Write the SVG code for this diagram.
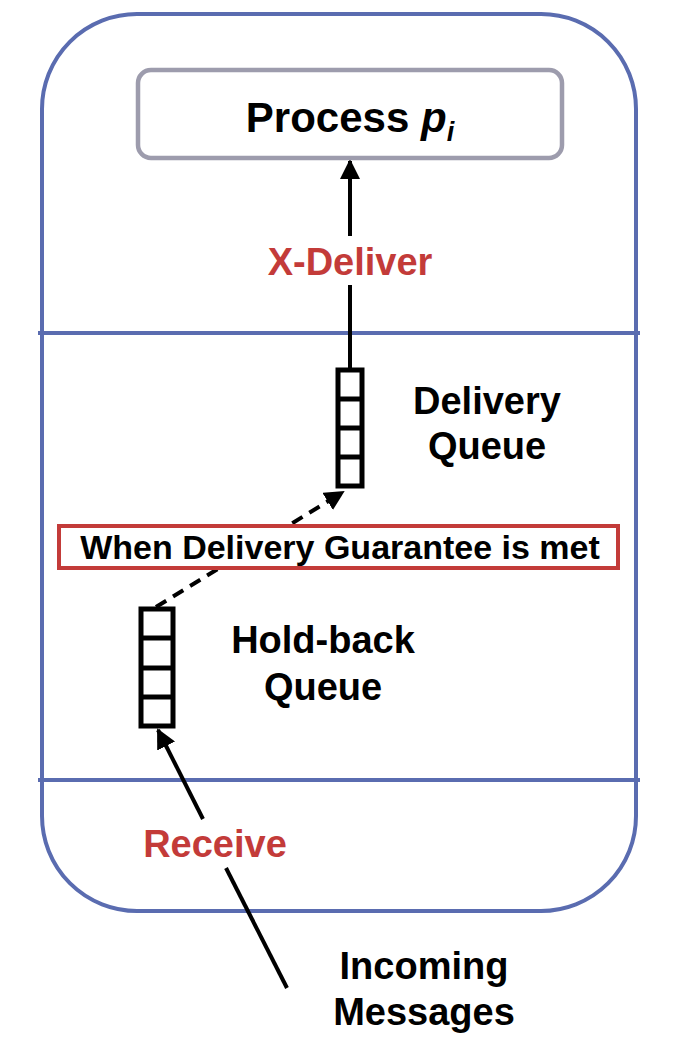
<svg xmlns="http://www.w3.org/2000/svg" width="674" height="1060" viewBox="0 0 674 1060">
<defs>
<style>
text{font-family:"Liberation Sans",Arial,sans-serif;font-weight:bold;text-anchor:middle}
.blk{fill:#000}
.red{fill:#c33b39}
.q{fill:none;stroke:#000;stroke-width:5}
.ln{stroke:#000;stroke-width:4;fill:none}
</style>
<marker id="ah" viewBox="0 0 10 10" refX="9" refY="5" markerWidth="5" markerHeight="5" markerUnits="strokeWidth" orient="auto"><path d="M0,0L10,5L0,10z" fill="#000"/></marker>
</defs>
<g id="container">
<rect x="42" y="14" width="594" height="897" rx="95" ry="95" fill="#fff" stroke="#5a6cb0" stroke-width="4"/>
<line x1="38" y1="333" x2="640" y2="333" stroke="#5a6cb0" stroke-width="4"/>
<line x1="38" y1="780" x2="640" y2="780" stroke="#5a6cb0" stroke-width="4"/>
</g>
<g id="connectors">
<line x1="350" y1="370" x2="350" y2="285" class="ln"/>
<line x1="350" y1="236" x2="350" y2="161" class="ln" marker-end="url(#ah)"/>
<text x="350" y="275" font-size="38" class="red">X-Deliver</text>
<line x1="156" y1="607" x2="343" y2="492" class="ln" stroke-dasharray="12,8" marker-end="url(#ah)"/>
<line x1="287" y1="988" x2="226" y2="868" class="ln"/>
<line x1="203" y1="819" x2="158" y2="730" class="ln" marker-end="url(#ah)"/>
<text x="215" y="857" font-size="38" class="red">Receive</text>
</g>
<g id="process">
<rect x="138" y="70" width="424" height="88" rx="13" fill="#fff" stroke="#9d9cad" stroke-width="4.5"/>
<text x="350" y="132" font-size="42" class="blk">Process <tspan font-style="italic">p</tspan><tspan font-style="italic" font-size="27" dy="9">i</tspan></text>
</g>
<g id="delivery-queue">
<rect x="338" y="370" width="24" height="116" class="q"/>
<line x1="338" y1="399" x2="362" y2="399" class="q"/>
<line x1="338" y1="428" x2="362" y2="428" class="q"/>
<line x1="338" y1="457" x2="362" y2="457" class="q"/>
<text x="487" y="414" font-size="38" class="blk">Delivery</text>
<text x="487" y="459" font-size="38" class="blk">Queue</text>
</g>
<g id="holdback-queue">
<rect x="141" y="609" width="32" height="117" class="q"/>
<line x1="141" y1="638" x2="173" y2="638" class="q"/>
<line x1="141" y1="668" x2="173" y2="668" class="q"/>
<line x1="141" y1="697" x2="173" y2="697" class="q"/>
<text x="323" y="653" font-size="38" class="blk">Hold-back</text>
<text x="323" y="700" font-size="38" class="blk">Queue</text>
</g>
<g id="condition">
<rect x="59" y="526" width="559" height="42" fill="#fff" stroke="#c33b39" stroke-width="4"/>
<text x="340" y="559" font-size="34" class="blk">When Delivery Guarantee is met</text>
</g>
<g id="incoming">
<text x="424" y="979" font-size="38" class="blk">Incoming</text>
<text x="424" y="1025" font-size="38" class="blk">Messages</text>
</g>
</svg>
